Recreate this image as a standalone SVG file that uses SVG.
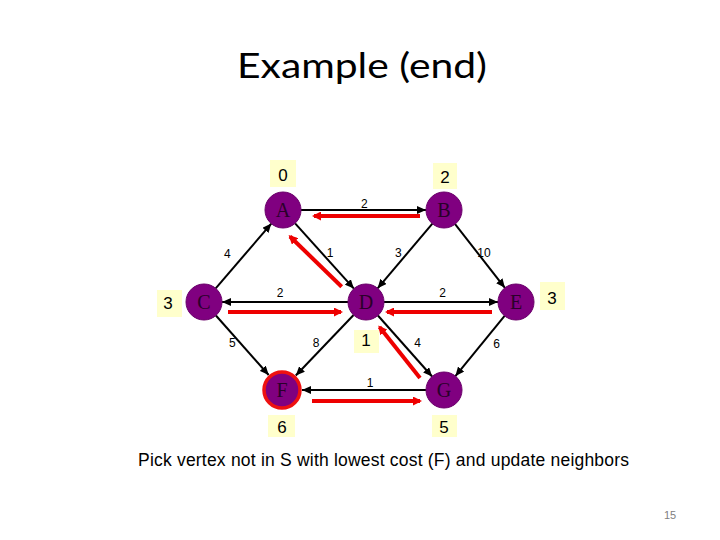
<svg xmlns="http://www.w3.org/2000/svg" width="720" height="540" viewBox="0 0 720 540">
<style>
.node{fill:#800080;stroke:#6a006a;stroke-width:1}
.lbl{font-family:"Liberation Serif",serif;font-size:20px;fill:#2a002a;text-anchor:middle}
.edge{stroke:#000;stroke-width:2;fill:none;marker-end:url(#ab)}
.red{stroke:#ee0000;stroke-width:4;fill:none;marker-end:url(#ar)}
.w{font-family:"Liberation Sans",Arial,sans-serif;font-size:12px;fill:#000;text-anchor:middle}
.box{fill:#ffffcc}
.cost{font-family:"Liberation Sans",Arial,sans-serif;font-size:17px;fill:#000;text-anchor:middle}
</style>
<defs>
<marker id="ab" markerUnits="userSpaceOnUse" markerWidth="9" markerHeight="8" refX="9" refY="4" orient="auto"><path d="M0,0 L9,4 L0,8 z" fill="#000"/></marker>
<marker id="ar" markerUnits="userSpaceOnUse" markerWidth="9" markerHeight="9" refX="7" refY="4.5" orient="auto"><path d="M0,0 L9,4.5 L0,9 z" fill="#ee0000"/></marker>
</defs>
<rect width="720" height="540" fill="#fff"/>
<text x="237" y="78" font-family="Lato,Liberation Sans,sans-serif" font-size="35" textLength="250" lengthAdjust="spacingAndGlyphs" fill="#000">Example (end)</text>

<g id="connectors">
<line class="edge" x1="301" y1="210" x2="426" y2="210"/>
<line class="edge" x1="215.7" y1="288.4" x2="271.3" y2="223.6"/>
<line class="edge" x1="295.1" y1="223.4" x2="353.9" y2="288.6"/>
<line class="edge" x1="432.4" y1="223.7" x2="377.6" y2="288.3"/>
<line class="edge" x1="455.1" y1="224.2" x2="504.9" y2="287.8"/>
<line class="edge" x1="348" y1="302" x2="222" y2="302"/>
<line class="edge" x1="384" y1="302" x2="498" y2="302"/>
<line class="edge" x1="215.9" y1="315.5" x2="268.7" y2="375"/>
<line class="edge" x1="353.6" y1="315" x2="295.8" y2="375.5"/>
<line class="edge" x1="377.9" y1="315.5" x2="432.1" y2="376.5"/>
<line class="edge" x1="504.6" y1="315.9" x2="455.4" y2="376.1"/>
<line class="edge" x1="426" y1="390" x2="302" y2="390"/>
<line class="red" x1="420" y1="216" x2="314" y2="216"/>
<line class="red" x1="341.7" y1="286.7" x2="290" y2="236.5"/>
<line class="red" x1="228" y1="312" x2="341" y2="312"/>
<line class="red" x1="492" y1="312" x2="387" y2="312"/>
<line class="red" x1="420" y1="378" x2="379.5" y2="327"/>
<line class="red" x1="312" y1="401" x2="420" y2="401"/>
<text class="w" x="364.3" y="207.5">2</text>
<text class="w" x="227.3" y="258">4</text>
<text class="w" x="330" y="257">1</text>
<text class="w" x="398.3" y="257">3</text>
<text class="w" x="484" y="257">10</text>
<text class="w" x="280" y="297">2</text>
<text class="w" x="442.7" y="297">2</text>
<text class="w" x="232.3" y="347">5</text>
<text class="w" x="316" y="347">8</text>
<text class="w" x="417.7" y="347">4</text>
<text class="w" x="496.7" y="348">6</text>
<text class="w" x="370" y="387">1</text>
</g>

<g id="A"><circle class="node" cx="283" cy="210" r="18"/><text class="lbl" x="283" y="217">A</text>
<rect class="box" x="270" y="160" width="26" height="27"/><text class="cost" x="283" y="181">0</text></g>
<g id="B"><circle class="node" cx="444" cy="210" r="18"/><text class="lbl" x="444" y="217">B</text>
<rect class="box" x="433" y="163" width="24" height="26"/><text class="cost" x="445" y="183">2</text></g>
<g id="C"><circle class="node" cx="204" cy="302" r="18"/><text class="lbl" x="204" y="309">C</text>
<rect class="box" x="157" y="290" width="25" height="27"/><text class="cost" x="168" y="309">3</text></g>
<g id="D"><circle class="node" cx="366" cy="302" r="18"/><text class="lbl" x="366" y="309">D</text>
<rect class="box" x="354" y="330" width="25" height="23"/><text class="cost" x="366" y="346">1</text></g>
<g id="E"><circle class="node" cx="516" cy="302" r="18"/><text class="lbl" x="516" y="309">E</text>
<rect class="box" x="540" y="282" width="25" height="28"/><text class="cost" x="552" y="304">3</text></g>
<g id="F"><circle cx="282" cy="390" r="18" fill="#800080" stroke="#ee1111" stroke-width="3.5"/><text class="lbl" x="282" y="397">F</text>
<rect class="box" x="268" y="415" width="27" height="22"/><text class="cost" x="282" y="433">6</text></g>
<g id="G"><circle class="node" cx="444" cy="390" r="18"/><text class="lbl" x="444" y="397">G</text>
<rect class="box" x="432" y="415" width="25" height="22"/><text class="cost" x="444" y="433">5</text></g>

<text x="138" y="466" font-family="Liberation Sans,Arial,sans-serif" font-size="17.5" textLength="491" fill="#000">Pick vertex not in S with lowest cost (F) and update neighbors</text>
<text x="670" y="519" font-family="Liberation Sans,Arial,sans-serif" font-size="11" text-anchor="middle" fill="#808080">15</text>
</svg>
